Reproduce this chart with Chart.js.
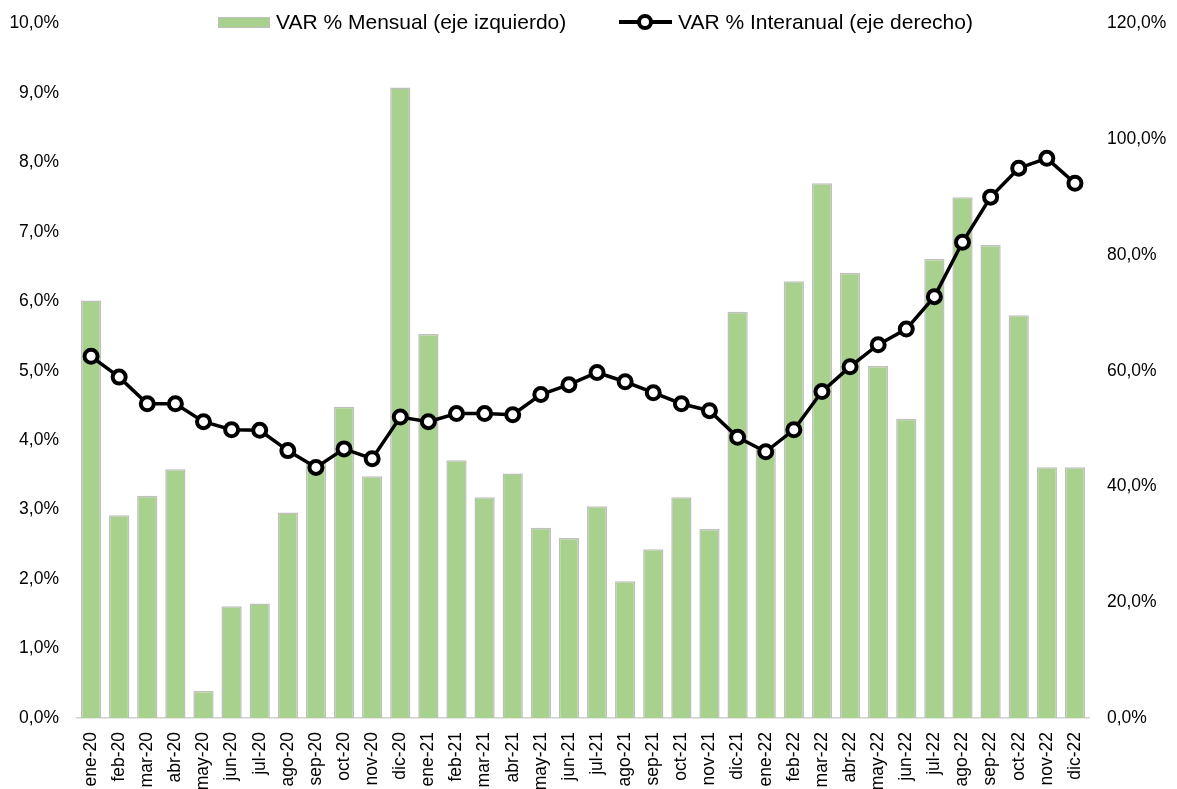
<!DOCTYPE html>
<html>
<head>
<meta charset="utf-8">
<script src="https://cdn.jsdelivr.net/npm/chart.js@4"></script>
<style>
  html, body { margin: 0; padding: 0; background: #ffffff; overflow: hidden; }
  #wrap { position: relative; width: 1177px; height: 789px; overflow: hidden; }
  #c { position: absolute; left: 0; top: -5px; }
  #legend { position: absolute; left: 0; top: 0; width: 1177px; height: 44px; pointer-events: none;
            font-family: "Liberation Sans", Arial, sans-serif; font-size: 21px; color: #000; }
  .item { position: absolute; top: 9px; height: 26px; line-height: 26px; white-space: nowrap; }
  .box { position: absolute; left: 0; top: 8px; width: 50px; height: 9px; background: #a9d18e; border: 1px solid #bfbfbf; }
  .ln { position: absolute; left: 0; top: 11px; width: 53px; height: 4px; background: #000; }
  .pt { position: absolute; left: 18px; top: 5px; width: 8px; height: 8px; border: 4px solid #000; border-radius: 50%; background: #fff; }
  .txt { position: absolute; left: 58px; top: 0; }
</style>
</head>
<body>
<div id="wrap">
  <canvas id="c" width="1177" height="794"></canvas>
  <div id="legend">
    <div class="item" style="left:218px"><span class="box"></span><span class="txt">VAR % Mensual (eje izquierdo)</span></div>
    <div class="item" style="left:619px"><span class="ln"></span><span class="pt"></span><span class="txt" style="left:59px">VAR % Interanual (eje derecho)</span></div>
  </div>
</div>
<script>
const categories = ["ene-20","feb-20","mar-20","abr-20","may-20","jun-20","jul-20","ago-20","sep-20","oct-20","nov-20","dic-20",
                    "ene-21","feb-21","mar-21","abr-21","may-21","jun-21","jul-21","ago-21","sep-21","oct-21","nov-21","dic-21",
                    "ene-22","feb-22","mar-22","abr-22","may-22","jun-22","jul-22","ago-22","sep-22","oct-22","nov-22","dic-22"];
const mensual = [6.01, 2.92, 3.2, 3.58, 0.39, 1.61, 1.65, 2.96, 3.7, 4.48, 3.48, 9.08,
                 5.53, 3.71, 3.18, 3.52, 2.74, 2.59, 3.05, 1.97, 2.43, 3.18, 2.72, 5.85,
                 3.88, 6.29, 7.7, 6.41, 5.07, 4.31, 6.61, 7.5, 6.81, 5.8, 3.61, 3.61];
const interanual = [62.5, 58.9, 54.3, 54.3, 51.2, 49.8, 49.7, 46.2, 43.3, 46.5, 44.8, 52.0,
                    51.2, 52.6, 52.6, 52.4, 55.9, 57.6, 59.7, 58.1, 56.2, 54.3, 53.1, 48.5,
                    46.0, 49.8, 56.4, 60.7, 64.5, 67.2, 72.8, 82.2, 90.0, 95.0, 96.7, 92.4];
const leftTicks = {min: 0, max: 10, step: 1};
const rightTicks = {min: 0, max: 120, step: 20};
const seriesNames = ["VAR % Mensual (eje izquierdo)", "VAR % Interanual (eje derecho)"];

const fmt = v => Number(v).toFixed(1).replace('.', ',') + '%';
const FONT = "'Liberation Sans', Arial, sans-serif";

new Chart(document.getElementById('c'), {
  type: 'bar',
  data: {
    labels: categories,
    datasets: [
      {
        type: 'line', label: seriesNames[1], data: interanual, yAxisID: 'y1', order: 0,
        borderColor: '#000', borderWidth: 3.5, tension: 0,
        pointRadius: 6.5, pointBorderWidth: 4, pointBackgroundColor: '#fff', pointBorderColor: '#000',
        pointHoverRadius: 6.5
      },
      {
        type: 'bar', label: seriesNames[0], data: mensual, yAxisID: 'y', order: 1,
        backgroundColor: '#a9d18e', borderColor: '#bfbfbf', borderWidth: 1.5, borderSkipped: 'bottom',
        categoryPercentage: 1, barPercentage: 0.72
      }
    ]
  },
  options: {
    responsive: false,
    animation: false,
    events: [],
    layout: { padding: { top: 17, left: 0, right: 0, bottom: 0 } },
    plugins: { legend: { display: false }, tooltip: { enabled: false } },
    scales: {
      x: {
        grid: { display: false, drawTicks: false },
        border: { display: true, color: '#d0d0d0', width: 1.5 },
        ticks: { autoSkip: false, minRotation: 90, maxRotation: 90, padding: 14, color: '#000',
                 font: { family: FONT, size: 17.5 } },
        afterFit: s => { s.height = 71; }
      },
      y: {
        position: 'left', min: leftTicks.min, max: leftTicks.max,
        grid: { display: false, drawTicks: false }, border: { display: false },
        ticks: { stepSize: leftTicks.step, padding: 18, color: '#000', font: { family: FONT, size: 17.5 }, callback: v => fmt(v) },
        afterFit: s => { s.width = 77; }
      },
      y1: {
        position: 'right', min: rightTicks.min, max: rightTicks.max,
        grid: { display: false, drawTicks: false }, border: { display: false },
        ticks: { stepSize: rightTicks.step, padding: 18, color: '#000', font: { family: FONT, size: 17.5 }, callback: v => fmt(v) },
        afterFit: s => { s.width = 88; }
      }
    }
  }
});
</script>
</body>
</html>
